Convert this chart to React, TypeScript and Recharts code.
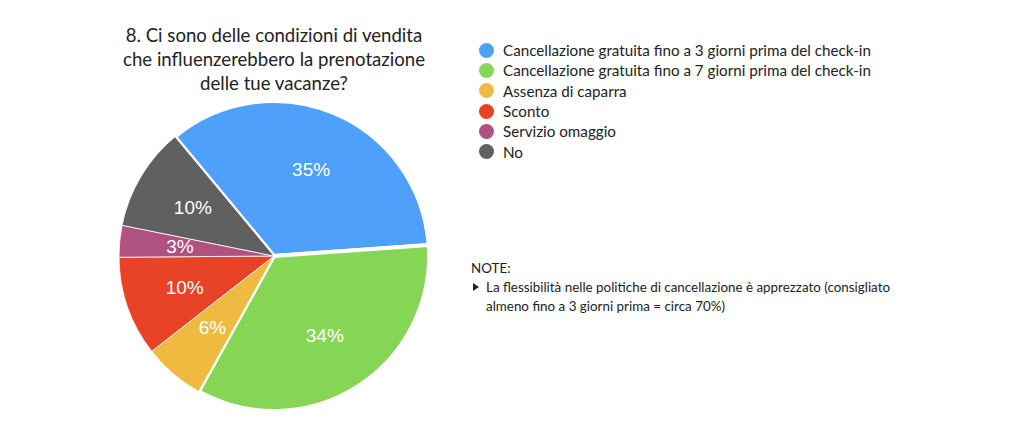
import React from 'react';
import { PieChart, Pie, Cell, Legend } from 'recharts';

const categories = [
  'Cancellazione gratuita fino a 3 giorni prima del check-in',
  'Cancellazione gratuita fino a 7 giorni prima del check-in',
  'Assenza di caparra',
  'Sconto',
  'Servizio omaggio',
  'No',
];
const values = [34.9, 34.2, 6.4, 10.4, 3.3, 10.8];
const percentLabels = ['35%', '34%', '6%', '10%', '3%', '10%'];
const colors = ['#4EA0FA', '#86D655', '#EEBB40', '#E84326', '#B0527F', '#606060'];
const titleLines = [
  '8. Ci sono delle condizioni di vendita',
  'che influenzerebbero la prenotazione',
  'delle tue vacanze?',
];
const noteTitle = 'NOTE:';
const noteLines = [
  'La flessibilità nelle politiche di cancellazione è apprezzato (consigliato',
  'almeno fino a 3 giorni prima = circa 70%)',
];

const data = categories.map((name, i) => ({ name, value: values[i] }));
const FONT = 'Lato, "Noto Sans", sans-serif';
const TEXT = '#222';

const renderLabel = (props: any) => {
  const { cx, cy, midAngle, outerRadius, index } = props;
  const r = outerRadius * 0.61;
  const x = cx + r * Math.cos((-midAngle * Math.PI) / 180);
  const y = cy + r * Math.sin((-midAngle * Math.PI) / 180);
  return (
    <text
      x={x}
      y={y}
      fill="#fff"
      textAnchor="middle"
      dominantBaseline="central"
      fontSize={19}
      fontFamily='"Liberation Sans", Arial, sans-serif'
    >
      {percentLabels[index]}
    </text>
  );
};

const renderLegend = (props: any) => {
  const payload = [...(props.payload || [])].sort(
    (a: any, b: any) => categories.indexOf(a.value) - categories.indexOf(b.value)
  );
  return (
    <div style={{ fontFamily: FONT, fontSize: 15.2, color: TEXT }}>
      {payload.map((entry: any, i: number) => (
        <div key={i} style={{ display: 'flex', alignItems: 'center', height: 20.3 }}>
          <span
            style={{
              width: 15,
              height: 15,
              borderRadius: '50%',
              background: entry.color,
              display: 'inline-block',
              marginRight: 9,
              flex: 'none',
            }}
          />
          <span style={{ whiteSpace: 'nowrap' }}>{entry.value}</span>
        </div>
      ))}
    </div>
  );
};

export default function App() {
  return (
    <div style={{ position: 'absolute', left: 0, top: 0, width: 1024, height: 441, background: '#fff' }}>
      <PieChart width={1024} height={441} margin={{ top: 0, right: 0, bottom: 0, left: 0 }}>
        <Pie
          data={data}
          dataKey="value"
          nameKey="name"
          cx={274}
          cy={256}
          outerRadius={155}
          startAngle={129.7}
          endAngle={129.7 - 360}
          label={renderLabel}
          labelLine={false}
          isAnimationActive={false}
        >
          {data.map((d, i) => (
            <Cell key={i} fill={colors[i]} stroke="#fff" strokeWidth={i < 2 ? 4 : 0.8} />
          ))}
        </Pie>
        <Legend
          layout="vertical"
          align="right"
          verticalAlign="top"
          content={renderLegend}
          wrapperStyle={{ position: 'absolute', left: 479, top: 40, width: 480, right: 'auto' }}
        />
      </PieChart>
      <div
        style={{
          position: 'absolute',
          left: 74,
          top: 23,
          width: 400,
          textAlign: 'center',
          fontFamily: FONT,
          fontSize: 18.6,
          lineHeight: '24px',
          color: TEXT,
        }}
      >
        {titleLines.map((t, i) => (
          <div key={i}>{t}</div>
        ))}
      </div>
      <div
        style={{
          position: 'absolute',
          left: 471,
          top: 259,
          fontFamily: FONT,
          fontSize: 13.4,
          lineHeight: '19px',
          color: TEXT,
        }}
      >
        <div>{noteTitle}</div>
        <div style={{ position: 'relative', paddingLeft: 15 }}>
          <span
            style={{
              position: 'absolute',
              left: 2,
              top: 5,
              width: 0,
              height: 0,
              borderTop: '4.5px solid transparent',
              borderBottom: '4.5px solid transparent',
              borderLeft: '6px solid #222',
            }}
          />
          {noteLines.map((t, i) => (
            <div key={i} style={{ whiteSpace: 'nowrap' }}>{t}</div>
          ))}
        </div>
      </div>
    </div>
  );
}
